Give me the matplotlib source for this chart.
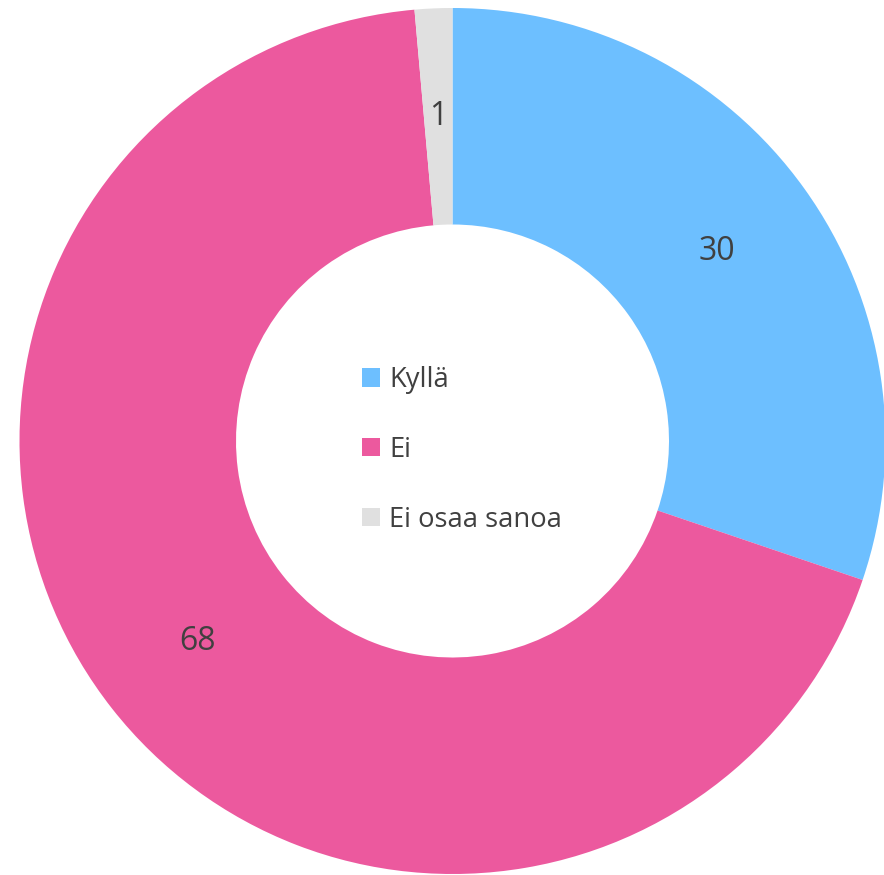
import matplotlib.pyplot as plt

labels = ['Kyllä', 'Ei', 'Ei osaa sanoa']
values = [30.2, 68.4, 1.4]
colors = ['#6DBFFF', '#EC599E', '#E0E0E0']

plt.rcParams['font.family'] = ['Open Sans', 'DejaVu Sans']

W, H = 884, 875
cx, cy, R = 452.5, 441, 433

fig = plt.figure(figsize=(W / 100, H / 100), dpi=100)
ax = fig.add_axes([0, 0, 1, 1])

wedges, texts, autotexts = ax.pie(
    values, colors=colors, startangle=90, counterclock=False,
    radius=1, wedgeprops=dict(width=0.5, linewidth=0),
    autopct=lambda p: f'{round(p)}', pctdistance=0.75,
    textprops=dict(color='#404040', fontsize=23))

ax.set_xlim(-cx / R, (W - cx) / R)
ax.set_ylim(-(H - cy) / R, cy / R)
ax.set_aspect('equal')
ax.axis('off')

leg = ax.legend(wedges, labels, loc='center', bbox_to_anchor=(0.022, -0.02),
                bbox_transform=ax.transData, frameon=False, fontsize=19.7,
                handlelength=0.67, handleheight=0.67, handletextpad=0.33,
                labelspacing=1.53)
for t in leg.get_texts():
    t.set_color('#404040')

fig.savefig('out.png', dpi=100)
